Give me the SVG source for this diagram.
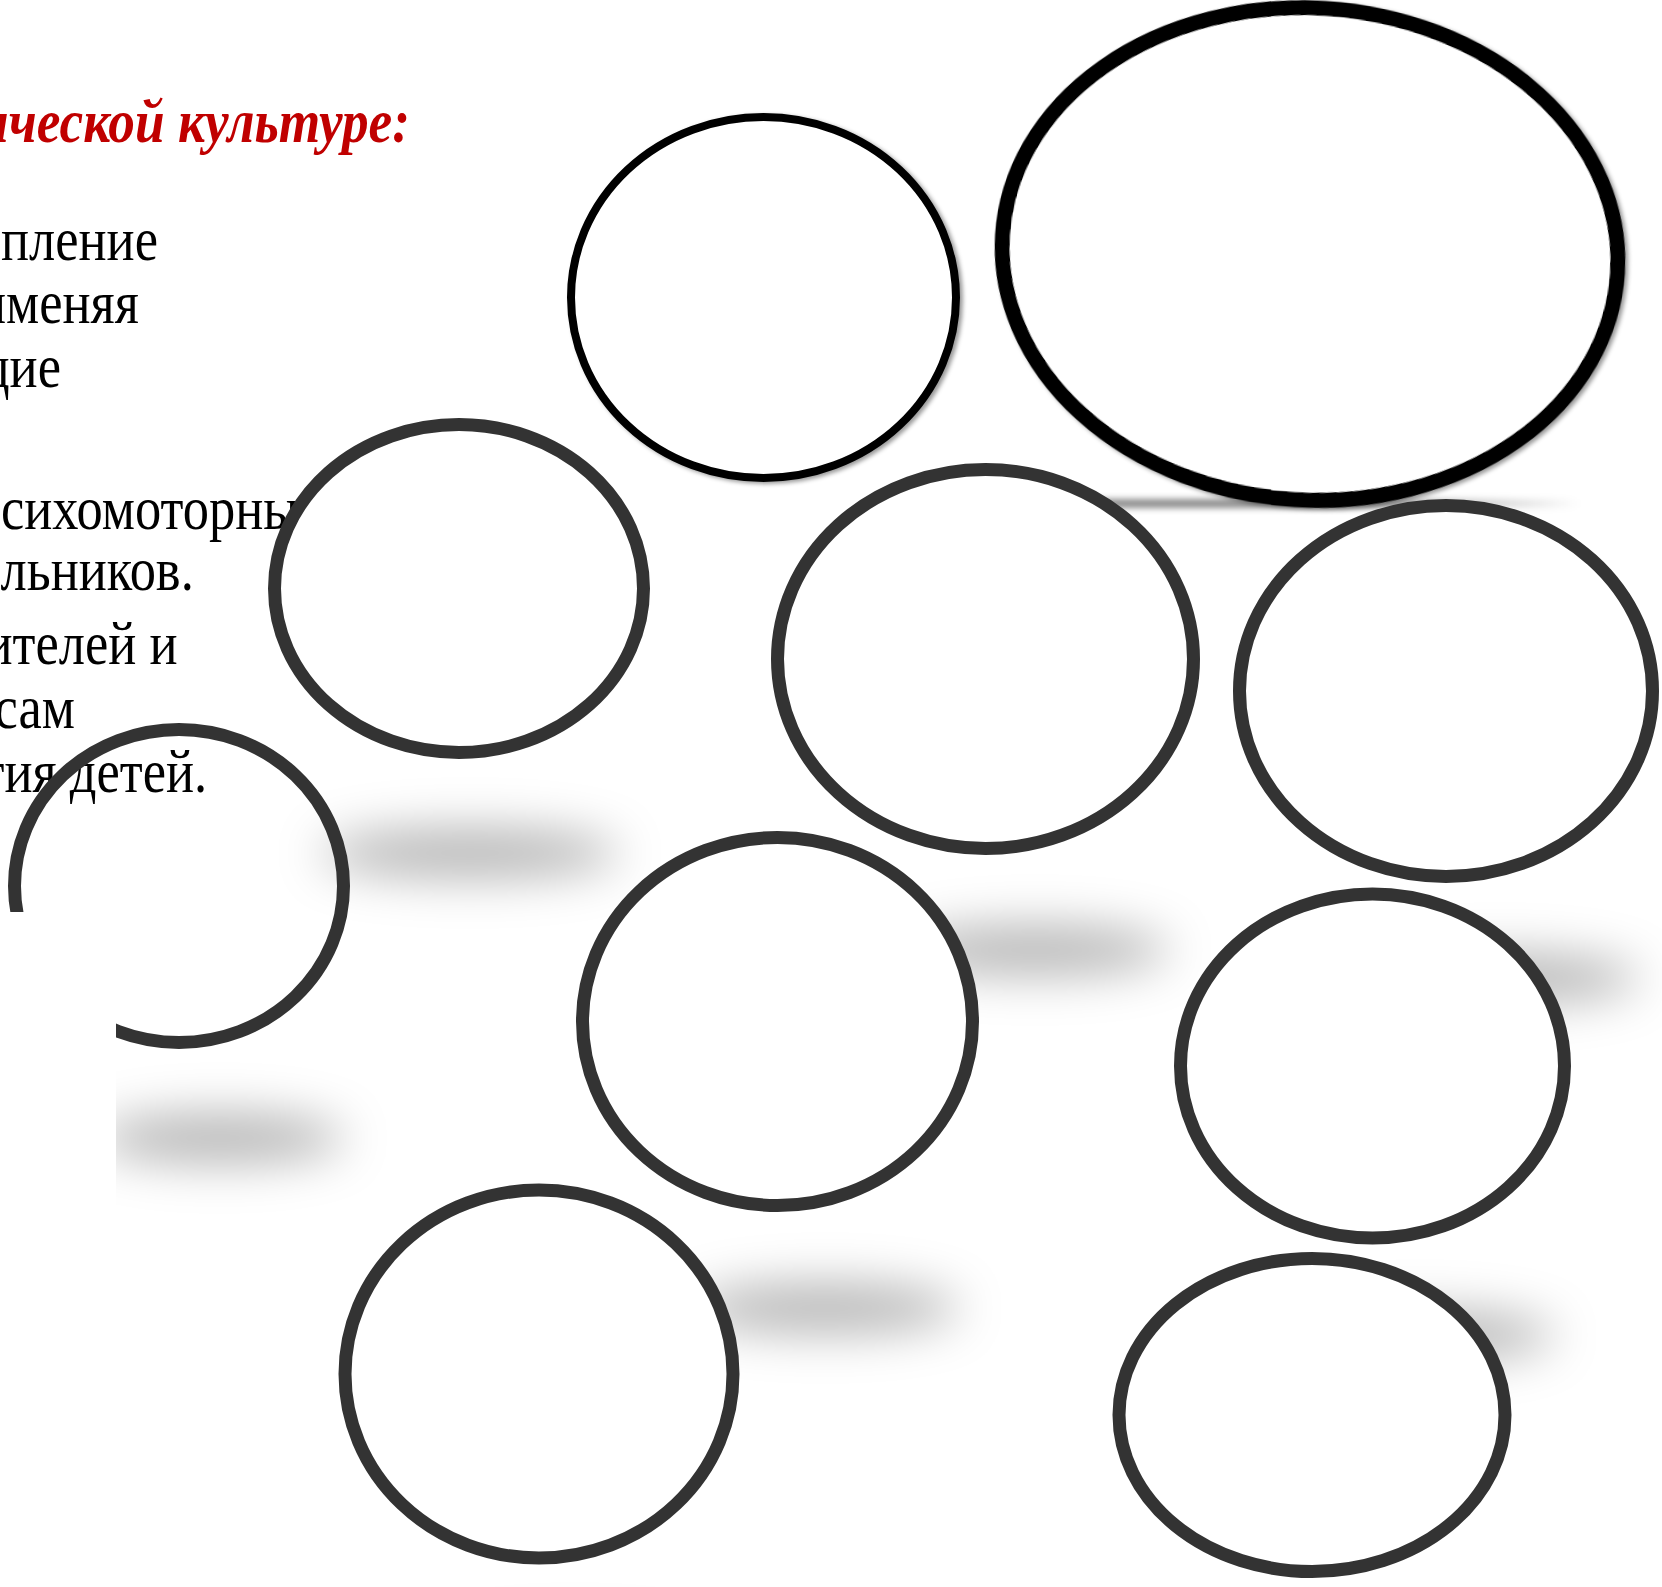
<svg xmlns="http://www.w3.org/2000/svg" width="1662" height="1587" viewBox="0 0 1662 1587">
  <defs>
    <style>
      .ring { fill: #ffffff; stroke: #333333; stroke-width: 13; }
      .ring-open { fill: none; stroke: #333333; stroke-width: 13; }
      .ring-black { fill: #ffffff; stroke: #000000; }
      .shadow { fill: #000000; fill-opacity: 0.3; filter: url(#soft); }
      .body { font-family: 'Liberation Serif', 'Times New Roman', serif; font-size: 61px; fill: #000000; }
      .head { font-family: 'Liberation Serif', 'Times New Roman', serif; font-size: 62px; font-weight: bold; font-style: italic; fill: #C00000; }
    </style>
    <linearGradient id="lineFade" x1="0" y1="0" x2="1" y2="0">
      <stop offset="0" stop-color="#000000" stop-opacity="0"/>
      <stop offset="0.12" stop-color="#000000" stop-opacity="0.45"/>
      <stop offset="0.55" stop-color="#000000" stop-opacity="0.45"/>
      <stop offset="1" stop-color="#000000" stop-opacity="0"/>
    </linearGradient>
    <filter id="soft" x="-50%" y="-250%" width="200%" height="600%">
      <feGaussianBlur stdDeviation="24"/>
    </filter>
    <filter id="thin" x="-10%" y="-300%" width="120%" height="700%">
      <feGaussianBlur stdDeviation="3"/>
    </filter>
    <filter id="drop" x="-10%" y="-10%" width="120%" height="120%">
      <feDropShadow dx="3" dy="2" stdDeviation="2" flood-color="#000000" flood-opacity="0.4"/>
    </filter>
  </defs>

  <rect x="0" y="0" width="1662" height="1587" fill="#ffffff"/>

  <g id="text">
    <g transform="scale(0.86,1)">
      <text class="head" x="-24.4" y="142">ической культуре:</text>
      <text class="body" x="1.2" y="260">пление</text>
      <text class="body" x="-25.6" y="323">именяя</text>
      <text class="body" x="-35.8" y="387">щие</text>
      <text class="body" x="1.2" y="529">сихомоторны</text>
      <text class="body" x="-29" y="590">ольников.</text>
      <text class="body" x="-18" y="664">ителей и</text>
      <text class="body" x="-6.3" y="728">сам</text>
      <text class="body" x="-21.4" y="792">тия детей.</text>
    </g>
  </g>

  <g id="node-b">
    <rect x="1025" y="499" width="555" height="9" rx="4.5" fill="url(#lineFade)" filter="url(#thin)"/>
    <ellipse class="ring-black" cx="1310" cy="254" rx="308" ry="246" stroke-width="15" transform="rotate(3.5 1310 254)" filter="url(#drop)"/>
  </g>

  <g id="node-a">
    <ellipse class="ring-black" cx="763.5" cy="297.5" rx="192.5" ry="180.5" stroke-width="8" filter="url(#drop)"/>
  </g>

  <g id="node-c">
    <ellipse class="shadow" cx="470" cy="853" rx="150" ry="24"/>
    <ellipse class="ring" cx="459" cy="588.5" rx="184.5" ry="164"/>
  </g>

  <g id="node-d">
    <ellipse class="shadow" cx="1035" cy="950" rx="135" ry="24"/>
    <ellipse class="ring" cx="985.5" cy="659" rx="208" ry="189.5"/>
  </g>

  <g id="node-e">
    <ellipse class="shadow" cx="1500" cy="978" rx="140" ry="24"/>
    <ellipse class="ring" cx="1446" cy="691" rx="206.5" ry="185.5"/>
  </g>

  <g id="node-f">
    <ellipse class="shadow" cx="220" cy="1138" rx="125" ry="24"/>
    <ellipse class="ring-open" cx="179" cy="886" rx="164.5" ry="156.5"/>
    <rect x="0" y="912" width="116" height="675" fill="#ffffff"/>
  </g>

  <g id="node-g">
    <ellipse class="shadow" cx="825" cy="1308" rx="135" ry="24"/>
    <ellipse class="ring" cx="777.5" cy="1021.5" rx="195" ry="184"/>
  </g>

  <g id="node-h">
    <ellipse class="shadow" cx="1420" cy="1335" rx="135" ry="24"/>
    <ellipse class="ring" cx="1372.5" cy="1066" rx="192" ry="172"/>
  </g>

  <g id="node-i">
    <ellipse class="shadow" cx="575" cy="1658" rx="135" ry="24"/>
    <ellipse class="ring" cx="539" cy="1374" rx="194" ry="184"/>
  </g>

  <g id="node-j">
    <ellipse class="shadow" cx="1346" cy="1670" rx="135" ry="24"/>
    <ellipse class="ring" cx="1312" cy="1415" rx="193" ry="156.5"/>
  </g>
</svg>
